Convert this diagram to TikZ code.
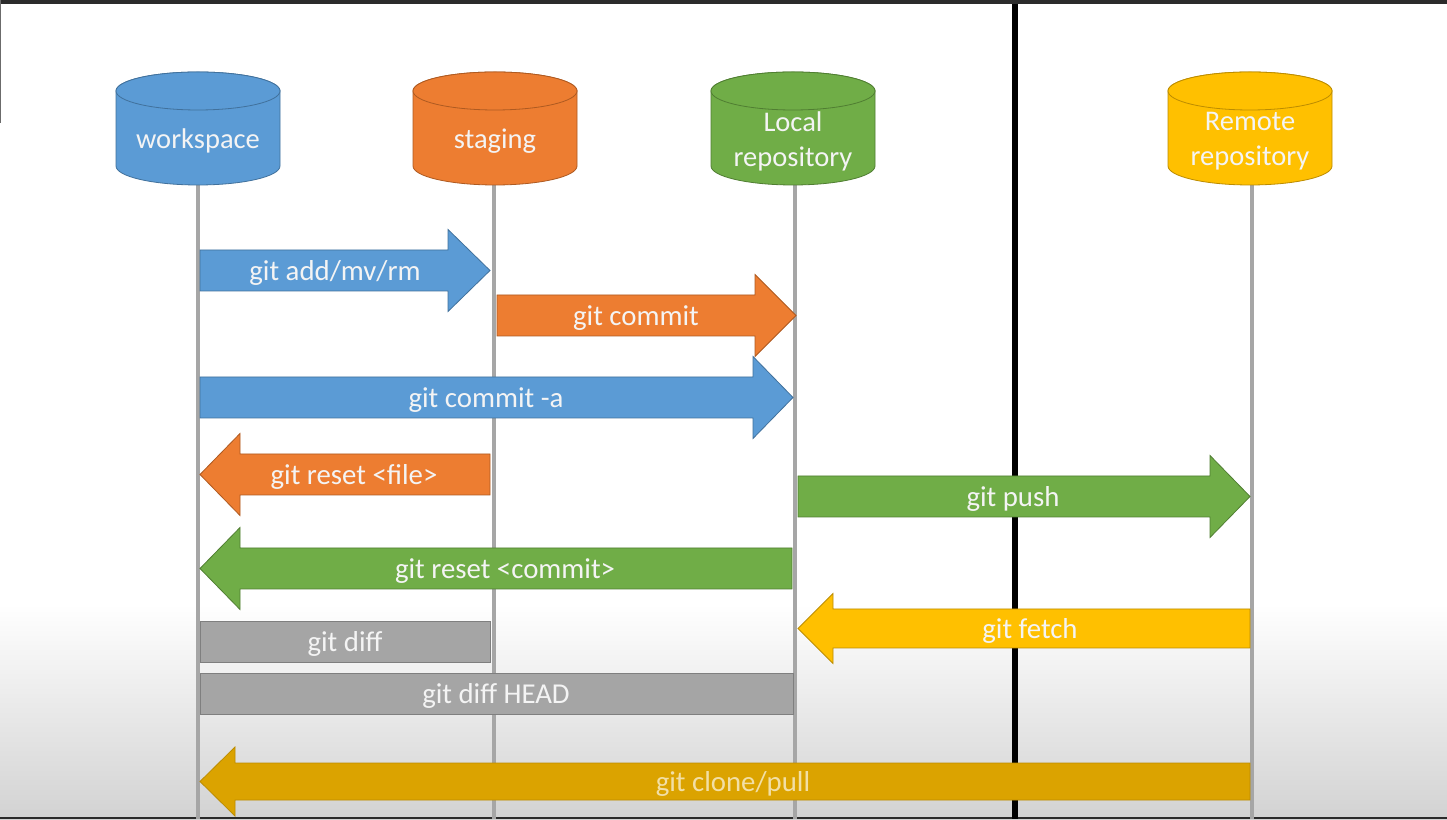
\documentclass[tikz,border=0pt]{standalone}
\usepackage{fontspec}
\setmainfont{Carlito}
\definecolor{cblue}{HTML}{5B9BD5}
\definecolor{cbluedk}{HTML}{41719C}
\definecolor{corange}{HTML}{ED7D31}
\definecolor{corangedk}{HTML}{AE5A21}
\definecolor{cgreen}{HTML}{70AD47}
\definecolor{cgreendk}{HTML}{507E32}
\definecolor{cyellow}{HTML}{FFC000}
\definecolor{cyellowdk}{HTML}{BC8C00}
\definecolor{cyellowd}{HTML}{DBA300}
\definecolor{cgray}{HTML}{A5A5A5}
\definecolor{cgraydk}{HTML}{7F7F7F}
\definecolor{cline}{HTML}{A6A6A6}
\definecolor{cframe}{HTML}{2B2B2B}
\definecolor{ctext}{HTML}{F4F4F4}
\definecolor{ctextdim}{HTML}{F2DFA6}
\newcommand{\rarr}[7]{\path[#7] (#1,#3-#5) -- (#2-#4,#3-#5) -- (#2-#4,#3-#6) -- (#2,#3) -- (#2-#4,#3+#6) -- (#2-#4,#3+#5) -- (#1,#3+#5) -- cycle;}
\newcommand{\larr}[7]{\path[#7] (#2,#3-#5) -- (#1+#4,#3-#5) -- (#1+#4,#3-#6) -- (#1,#3) -- (#1+#4,#3+#6) -- (#1+#4,#3+#5) -- (#2,#3+#5) -- cycle;}
\newcommand{\cyl}[3]{%
  \path[#3] (#1-82,#2-37.5) -- (#1-82,#2+37.5) arc[start angle=180,end angle=0,x radius=82pt,y radius=19pt]
    -- (#1+82,#2-37.5) arc[start angle=0,end angle=-180,x radius=82pt,y radius=19pt] -- cycle;
  \path[#3] (#1,#2+37.5) ellipse[x radius=82pt,y radius=19pt];}
\begin{document}
\begin{tikzpicture}[x=1pt,y=1pt,
  lbl/.style={text=ctext,font=\fontsize{28.8}{34}\selectfont,inner sep=0pt},
  cyltext/.style={text=ctext,font=\fontsize{28.5}{35}\selectfont,align=center,inner sep=0pt},
  lifeline/.style={draw=cline,line width=3.5pt},
  bluebox/.style={fill=cblue,draw=cbluedk,line width=0.8pt},
  orangebox/.style={fill=corange,draw=corangedk,line width=0.8pt},
  greenbox/.style={fill=cgreen,draw=cgreendk,line width=0.8pt},
  yellowbox/.style={fill=cyellow,draw=cyellowdk,line width=0.8pt},
  darkyellowbox/.style={fill=cyellowd,draw=cyellowdk,line width=0.8pt},
  graybox/.style={fill=cgray,draw=cgraydk,line width=0.8pt}]
\useasboundingbox (0,0) rectangle (1447,819);
% background
\fill[white] (0,0) rectangle (1447,819);
\shade[top color=white,bottom color=gray!35] (0,0) rectangle (1447,215);
\fill[cframe] (0,815) rectangle (1447,819);
\fill[cframe] (0,0) rectangle (1447,2);
\fill[cframe!70] (0,696) rectangle (1,819);
% lifeline ends
\coordinate (wsend) at (198,0);
\coordinate (stend) at (494,0);
\coordinate (lrend) at (795,0);
\coordinate (rrend) at (1252,0);
\coordinate (bartop) at (1015,815);
\coordinate (barbot) at (1015,0);
\coordinate (wstop) at (198,640);
\coordinate (sttop) at (494,640);
\coordinate (lrtop) at (795,640);
\coordinate (rrtop) at (1252,640);
\draw[lifeline] (wstop) -- (wsend);
\draw[lifeline] (sttop) -- (stend);
\draw[lifeline] (lrtop) -- (lrend);
\draw[lifeline] (rrtop) -- (rrend);
\draw[black,line width=6pt] (bartop) -- (barbot);
% cylinders
\cyl{198}{690.5}{bluebox}
\cyl{495}{690.5}{orangebox}
\cyl{793}{690.5}{greenbox}
\cyl{1250}{690.5}{yellowbox}
\node[cyltext] (ws) at (198,678) {workspace};
\node[cyltext] (st) at (495,678) {staging};
\node[cyltext] (lr) at (793,678) {Local\\repository};
\node[cyltext] (rr) at (1250,678) {Remote\\repository};
% arrows
\rarr{200}{490}{548.5}{42}{20.5}{41}{bluebox}
\rarr{497}{796}{503.5}{41}{20.5}{41}{orangebox}
\rarr{200}{793}{421.5}{40}{20.5}{41}{bluebox}
\larr{200}{490}{344.5}{40}{20.5}{41}{orangebox}
\rarr{798}{1250}{322.5}{40}{20.5}{41}{greenbox}
\larr{200}{792}{250.5}{40}{20.5}{41}{greenbox}
\larr{798}{1250}{190.5}{35}{19.5}{35}{yellowbox}
\path[graybox] (200,157) rectangle (490,198);
\path[graybox] (200,105) rectangle (793,146);
\larr{200}{1250}{37.5}{35}{18.5}{34.5}{darkyellowbox}
% labels
\node[lbl] (tadd) at (335,546) {git add/mv/rm};
\node[lbl] (tcommit) at (636,501) {git commit};
\node[lbl] (tcommita) at (486,419) {git commit -a};
\node[lbl] (tresetf) at (354,342) {git reset <file>};
\node[lbl] (tpush) at (1013,320) {git push};
\node[lbl] (tresetc) at (505,248) {git reset <commit>};
\node[lbl] (tfetch) at (1030,188) {git fetch};
\node[lbl] (tdiff) at (345,175) {git diff};
\node[lbl] (tdiffh) at (496,123) {git diff HEAD};
\node[lbl,text=ctextdim] (tclone) at (733,35) {git clone/pull};
\end{tikzpicture}
\end{document}
